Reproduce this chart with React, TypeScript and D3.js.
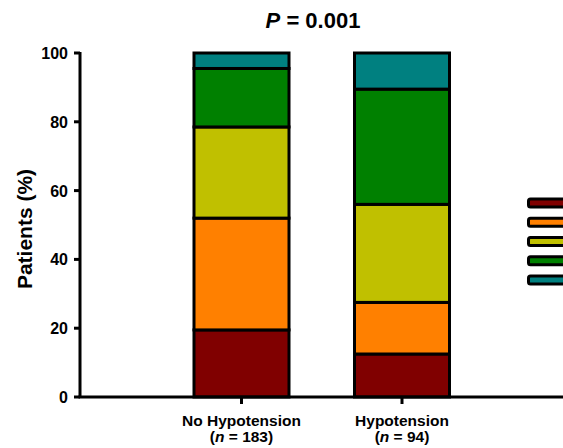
import React from "react";
import * as d3 from "d3";

const categories = ["No Hypotension", "Hypotension"];
const nLabels = ["183", "94"];
const seriesKeys = ["s1", "s2", "s3", "s4", "s5"];
const colors = ["#800000", "#FF8000", "#C0C000", "#008000", "#008080"];
const s1 = [19.5, 12.5];
const s2 = [32.5, 15];
const s3 = [26.5, 28.5];
const s4 = [17, 33.5];
const s5 = [4.5, 10.5];
const yTicks = [0, 20, 40, 60, 80, 100];

export default function App() {
  const W = 563, H = 448;
  const y = d3.scaleLinear().domain([0, 100]).range([397, 53]);
  const x = d3.scalePoint().domain(categories).range([241.5, 402]);
  const bw = 95;
  const rows = categories.map((c, i) => ({ cat: c, s1: s1[i], s2: s2[i], s3: s3[i], s4: s4[i], s5: s5[i] }));
  const stack = d3.stack<any>().keys(seriesKeys)(rows);
  const font = "'Liberation Sans', Arial, sans-serif";
  return (
    <svg width={W} height={H} style={{ position: "absolute", left: 0, top: 0 }} fontFamily={font}>
      <text x={313} y={28} textAnchor="middle" fontSize={22} fontWeight="bold">
        <tspan fontStyle="italic">P</tspan> = 0.001
      </text>
      <text transform={`translate(32,${229}) rotate(-90)`} textAnchor="middle" fontSize={21} fontWeight="bold">
        Patients (%)
      </text>
      {stack.map((layer, li) =>
        layer.map((d, i) => (
          <rect key={`${li}-${i}`} x={x(categories[i])! - bw / 2} width={bw} y={y(d[1])} height={y(d[0]) - y(d[1])}
            fill={colors[li]} stroke="#000" strokeWidth={3} />
        ))
      )}
      <line x1={80} x2={80} y1={52} y2={397} stroke="#000" strokeWidth={3} />
      <line x1={78.5} x2={563} y1={397} y2={397} stroke="#000" strokeWidth={3} />
      {yTicks.map((t) => (
        <g key={t}>
          <line x1={74} x2={80} y1={y(t)} y2={y(t)} stroke="#000" strokeWidth={3} />
          <text x={68} y={y(t) + 6} textAnchor="end" fontSize={16} fontWeight="bold">{t}</text>
        </g>
      ))}
      {categories.map((c, i) => {
        const cx = x(c)!;
        return (
          <g key={c}>
            <line x1={cx} x2={cx} y1={397} y2={404} stroke="#000" strokeWidth={3} />
            <text x={cx} y={426} textAnchor="middle" fontSize={15.5} fontWeight="bold">{c}</text>
            <text x={cx} y={442} textAnchor="middle" fontSize={15.5} fontWeight="bold">
              (<tspan fontStyle="italic">n</tspan> = {nLabels[i]})
            </text>
          </g>
        );
      })}
      {colors.map((c, i) => (
        <rect key={c} x={528.5} y={199 + i * 19.25} width={40} height={8} rx={2} fill={c} stroke="#000" strokeWidth={3} />
      ))}
    </svg>
  );
}
